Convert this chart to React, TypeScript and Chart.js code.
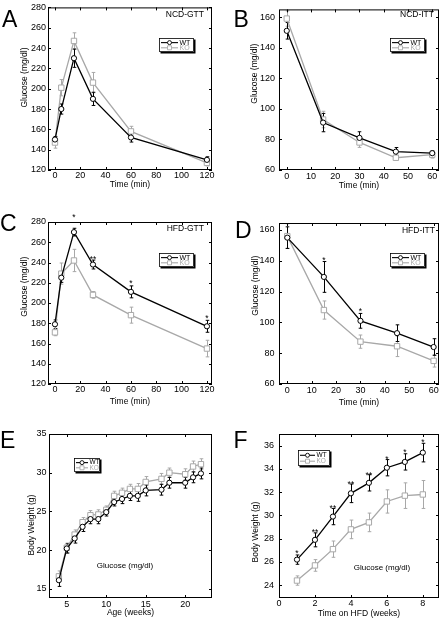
import React, { useEffect, useRef } from "react";
import { Chart, registerables } from "chart.js";

Chart.register(...registerables);

const FONT = "'Liberation Sans', Arial, Helvetica, sans-serif";
const BLACK = "#000000";
const GREY = "#a8a8a8";

// ---------- Data ----------
const gttTimes = [0, 5, 15, 30, 60, 120];
const ittTimes = [0, 15, 30, 45, 60];

const ncdGttWT = [150, 180, 230, 190, 152, 130];
const ncdGttWTErr = [3, 5, 9, 6.5, 4.5, 3];
const ncdGttKO = [147, 201, 247, 206, 158, 127];
const ncdGttKOErr = [5.5, 8, 8, 10, 5, 3];

const ncdIttWT = [151, 91, 81, 72, 71];
const ncdIttWTErr = [5.4, 6, 4, 2.7, 1.5];
const ncdIttKO = [159, 93, 78, 68, 70];
const ncdIttKOErr = [5, 5.4, 3.2, 1.7, 2.2];

const hfdGttWT = [179, 225, 270, 238, 211, 177];
const hfdGttWTErr = [4.3, 4.6, 3.8, 4.4, 5.9, 5.9];
const hfdGttKO = [171, 229, 242, 208, 188, 155];
const hfdGttKOErr = [3.3, 10.5, 11, 3.3, 7.9, 8.2];
const hfdGttStarX = [15, 30, 60, 120];
const hfdGttStarY = [286.5, 245.6, 221.6, 186.6];
const hfdGttStars = ["*", "**", "*", "*"];

const hfdIttWT = [155, 129.5, 101, 93, 84];
const hfdIttWTErr = [7, 10, 4.8, 5.4, 5.4];
const hfdIttKO = [156, 108, 87.5, 84.5, 75];
const hfdIttKOErr = [8, 5.9, 4.3, 6.7, 4];
const hfdIttStarX = [15, 30];
const hfdIttStarY = [141.9, 108.9];
const hfdIttStars = ["*", "*"];

const ageWeeks = [4, 5, 6, 7, 8, 9, 10, 11, 12, 13, 14, 15, 17, 18, 20, 21, 22];
const bwWT = [16.1, 20.2, 21.5, 23.0, 24.0, 24.0, 24.9, 26.2, 26.6, 27.0, 27.0, 27.7, 27.8, 28.7, 28.7, 29.4, 29.9];
const bwWTErr = [0.8, 0.6, 0.6, 0.6, 0.6, 0.6, 0.5, 0.5, 0.6, 0.6, 0.7, 0.7, 0.7, 0.7, 0.7, 0.7, 0.7];
const bwKO = [16.6, 20.3, 22.0, 23.6, 24.5, 24.6, 25.2, 27.0, 27.4, 27.9, 27.9, 28.8, 29.2, 30.0, 29.8, 30.8, 31.1];
const bwKOErr = [0.7, 0.6, 0.6, 0.6, 0.6, 0.6, 0.5, 0.6, 0.6, 0.6, 0.7, 0.7, 0.7, 0.6, 0.7, 0.7, 0.7];

const hfdWeeks = [1, 2, 3, 4, 5, 6, 7, 8];
const hfdBwWT = [26.2, 27.9, 29.9, 31.9, 32.8, 34.1, 34.6, 35.4];
const hfdBwWTErr = [0.4, 0.6, 0.7, 0.8, 0.7, 0.7, 0.7, 0.8];
const hfdBwKO = [24.4, 25.7, 27.1, 28.8, 29.4, 31.2, 31.7, 31.8];
const hfdBwKOErr = [0.4, 0.5, 0.7, 0.8, 0.8, 1.0, 1.1, 1.2];
const hfdBwStarY = [26.9, 28.7, 30.8, 32.9, 33.6, 35.05, 35.6, 36.5];
const hfdBwStars = ["*", "**", "**", "**", "**", "*", "*", "*"];

const gttXTicks = [0, 20, 40, 60, 80, 100, 120];
const ittXTicks = [0, 10, 20, 30, 40, 50, 60];
const gttYTicks = [120, 140, 160, 180, 200, 220, 240, 260, 280];
const ittYTicks = [60, 80, 100, 120, 140, 160];
const ageXTicks = [5, 10, 15, 20];
const ageYTicks = [15, 20, 25, 30, 35];
const hfdWeekXTicks = [0, 2, 4, 6, 8];
const hfdBwYTicks = [24, 26, 28, 30, 32, 34, 36];

// ---------- Panel layout ----------
type Legend = { x: number; y: number; w: number; h: number; line: number; fs: number };
type Panel = {
  letter: string; letterX: number; letterY: number;
  left: number; top: number; width: number; height: number;
  padding: { left: number; right: number; top: number; bottom: number };
  yWidth: number; xHeight: number;
  xMin: number; xMax: number; xTicks: number[];
  yMin: number; yMax: number; yTicks: number[];
  xTitle: string; xTitlePad: number; xTickPad: number;
  yTitle: string; yTitleX: number; yTitleY: number; yTickPad: number;
  x: number[]; wt: number[]; wtErr: number[]; ko: number[]; koErr: number[];
  tag?: string; tagX?: number; tagY?: number;
  legend: Legend;
  starX?: number[]; starY?: number[]; stars?: string[];
  note?: string; noteX?: number; noteY?: number;
};

const panels: Panel[] = [
  {
    letter: "A", letterX: 2, letterY: 27,
    left: 0, top: 0, width: 222, height: 210,
    padding: { left: 0, right: 10, top: 6, bottom: 16 }, yWidth: 48, xHeight: 24,
    xMin: -5.5, xMax: 124, xTicks: gttXTicks, yMin: 120, yMax: 280, yTicks: gttYTicks,
    xTitle: "Time (min)", xTitlePad: 4.6, xTickPad: 0,
    yTitle: "Glucose (mg/dl)", yTitleX: 25, yTitleY: 77.5, yTickPad: 2,
    x: gttTimes, wt: ncdGttWT, wtErr: ncdGttWTErr, ko: ncdGttKO, koErr: ncdGttKOErr,
    tag: "NCD-GTT", tagX: 204, tagY: 15,
    legend: { x: 159, y: 38, w: 35, h: 14, line: 17, fs: 7 },
  },
  {
    letter: "B", letterX: 11.5, letterY: 26.7,
    left: 222, top: 0, width: 222, height: 210,
    padding: { left: 0, right: 2, top: 7, bottom: 16 }, yWidth: 57, xHeight: 24,
    xMin: -3.2, xMax: 62.8, xTicks: ittXTicks, yMin: 60, yMax: 165, yTicks: ittYTicks,
    xTitle: "Time (min)", xTitlePad: 3.2, xTickPad: 1.5,
    yTitle: "Glucose (mg/dl)", yTitleX: 33, yTitleY: 73.7, yTickPad: 4,
    x: ittTimes, wt: ncdIttWT, wtErr: ncdIttWTErr, ko: ncdIttKO, koErr: ncdIttKOErr,
    tag: "NCD-ITT", tagX: 212, tagY: 15,
    legend: { x: 168, y: 38, w: 35, h: 14, line: 17, fs: 7 },
  },
  {
    letter: "C", letterX: 0, letterY: 20.7,
    left: 0, top: 210, width: 222, height: 210,
    padding: { left: 0, right: 10, top: 12, bottom: 12 }, yWidth: 48, xHeight: 24,
    xMin: -5.5, xMax: 124, xTicks: gttXTicks, yMin: 120, yMax: 280, yTicks: gttYTicks,
    xTitle: "Time (min)", xTitlePad: 1.2, xTickPad: 0,
    yTitle: "Glucose (mg/dl)", yTitleX: 25, yTitleY: 76.7, yTickPad: 2,
    x: gttTimes, wt: hfdGttWT, wtErr: hfdGttWTErr, ko: hfdGttKO, koErr: hfdGttKOErr,
    tag: "HFD-GTT", tagX: 204, tagY: 19,
    legend: { x: 159, y: 43, w: 35, h: 14, line: 17, fs: 7 },
    starX: hfdGttStarX, starY: hfdGttStarY, stars: hfdGttStars,
  },
  {
    letter: "D", letterX: 13, letterY: 28.3,
    left: 222, top: 210, width: 222, height: 210,
    padding: { left: 0, right: 2, top: 13, bottom: 12 }, yWidth: 57, xHeight: 24,
    xMin: -3.4, xMax: 62.2, xTicks: ittXTicks, yMin: 60, yMax: 164.5, yTicks: ittYTicks,
    xTitle: "Time (min)", xTitlePad: 0.2, xTickPad: 1.3,
    yTitle: "Glucose (mg/dl)", yTitleX: 33.3, yTitleY: 75.7, yTickPad: 4.5,
    x: ittTimes, wt: hfdIttWT, wtErr: hfdIttWTErr, ko: hfdIttKO, koErr: hfdIttKOErr,
    tag: "HFD-ITT", tagX: 213, tagY: 21,
    legend: { x: 168, y: 43, w: 35, h: 14, line: 17, fs: 7 },
    starX: hfdIttStarX, starY: hfdIttStarY, stars: hfdIttStars,
  },
  {
    letter: "E", letterX: 0, letterY: 28.3,
    left: 0, top: 420, width: 222, height: 208,
    padding: { left: 0, right: 10, top: 14, bottom: 6 }, yWidth: 49, xHeight: 24,
    xMin: 2.75, xMax: 23.4, xTicks: ageXTicks, yMin: 13.8, yMax: 35, yTicks: ageYTicks,
    xTitle: "Age (weeks)", xTitlePad: 4.2, xTickPad: 1,
    yTitle: "Body Weight (g)", yTitleX: 31.7, yTitleY: 105, yTickPad: 2.5,
    x: ageWeeks, wt: bwWT, wtErr: bwWTErr, ko: bwKO, koErr: bwKOErr,
    legend: { x: 74, y: 38, w: 26, h: 14, line: 12, fs: 6.5 },
    note: "Glucose (mg/dl)", noteX: 125, noteY: 146,
  },
  {
    letter: "F", letterX: 11.5, letterY: 28.3,
    left: 222, top: 420, width: 222, height: 208,
    padding: { left: 0, right: 2, top: 14, bottom: 6 }, yWidth: 57, xHeight: 24,
    xMin: 0, xMax: 8.9, xTicks: hfdWeekXTicks, yMin: 22.9, yMax: 37, yTicks: hfdBwYTicks,
    xTitle: "Time on HFD (weeks)", xTitlePad: 2.9, xTickPad: 0,
    yTitle: "Body Weight (g)", yTitleX: 33.7, yTitleY: 112, yTickPad: 5,
    x: hfdWeeks, wt: hfdBwWT, wtErr: hfdBwWTErr, ko: hfdBwKO, koErr: hfdBwKOErr,
    legend: { x: 76, y: 30, w: 32, h: 16, line: 15, fs: 6.5 },
    starX: hfdWeeks, starY: hfdBwStarY, stars: hfdBwStars,
    note: "Glucose (mg/dl)", noteX: 160, noteY: 148,
  },
];

function PanelChart({ p }: { p: Panel }) {
  const ref = useRef<HTMLCanvasElement | null>(null);

  useEffect(() => {
    const canvas = ref.current;
    if (!canvas) return;

    const deco = {
      id: "deco" + p.letter,
      beforeDatasetsDraw(chart: any) {
        const { ctx, scales } = chart;
        const xs = scales.x;
        const ys = scales.y;
        const cap = 1.8;
        const drawErr = (vals: number[], errs: number[], color: string) => {
          ctx.save();
          ctx.strokeStyle = color;
          ctx.lineWidth = 1;
          p.x.forEach((xv, i) => {
            const px = Math.round(xs.getPixelForValue(xv)) + 0.5;
            const y1 = ys.getPixelForValue(vals[i] + errs[i]);
            const y2 = ys.getPixelForValue(vals[i] - errs[i]);
            ctx.beginPath();
            ctx.moveTo(px, y1);
            ctx.lineTo(px, y2);
            ctx.moveTo(px - cap, y1);
            ctx.lineTo(px + cap, y1);
            ctx.moveTo(px - cap, y2);
            ctx.lineTo(px + cap, y2);
            ctx.stroke();
          });
          ctx.restore();
        };
        drawErr(p.ko, p.koErr, GREY);
        drawErr(p.wt, p.wtErr, BLACK);
      },
      afterDraw(chart: any) {
        const { ctx, chartArea: a, scales } = chart;
        const xs = scales.x;
        const ys = scales.y;
        ctx.save();
        // frame
        ctx.strokeStyle = BLACK;
        ctx.lineWidth = 1;
        ctx.strokeRect(a.left + 0.5, a.top + 0.5, a.right - a.left - 1, a.bottom - a.top - 1);
        // inward ticks
        const tl = 3;
        ctx.beginPath();
        p.xTicks.forEach((v) => {
          const px = Math.round(xs.getPixelForValue(v)) + 0.5;
          ctx.moveTo(px, a.bottom);
          ctx.lineTo(px, a.bottom - tl);
          ctx.moveTo(px, a.top);
          ctx.lineTo(px, a.top + tl);
        });
        p.yTicks.forEach((v) => {
          const py = Math.round(ys.getPixelForValue(v)) + 0.5;
          ctx.moveTo(a.left, py);
          ctx.lineTo(a.left + tl, py);
          ctx.moveTo(a.right, py);
          ctx.lineTo(a.right - tl, py);
        });
        ctx.stroke();

        // y title
        ctx.fillStyle = BLACK;
        ctx.save();
        ctx.translate(p.yTitleX, p.yTitleY);
        ctx.rotate(-Math.PI / 2);
        ctx.font = `8.5px ${FONT}`;
        ctx.textAlign = "center";
        ctx.textBaseline = "middle";
        ctx.fillText(p.yTitle, 0, 0);
        ctx.restore();

        // panel letter
        ctx.font = `23px ${FONT}`;
        ctx.textAlign = "left";
        ctx.textBaseline = "alphabetic";
        ctx.fillText(p.letter, p.letterX, p.letterY);

        // tag
        if (p.tag) {
          ctx.font = `8.5px ${FONT}`;
          ctx.textAlign = "right";
          ctx.textBaseline = "middle";
          ctx.fillText(p.tag, p.tagX as number, p.tagY as number);
        }

        // note
        if (p.note) {
          ctx.font = `8px ${FONT}`;
          ctx.textAlign = "center";
          ctx.textBaseline = "middle";
          ctx.fillText(p.note, p.noteX as number, p.noteY as number);
        }

        // stars
        if (p.starX && p.starY && p.stars) {
          const fs = 8.5;
          ctx.font = `${fs}px ${FONT}`;
          ctx.textAlign = "center";
          ctx.textBaseline = "alphabetic";
          p.starX.forEach((xv, i) => {
            const px = xs.getPixelForValue(xv);
            const py = ys.getPixelForValue((p.starY as number[])[i]);
            ctx.fillText((p.stars as string[])[i], px, py + 0.57 * fs);
          });
        }

        // legend
        const L = p.legend;
        ctx.fillStyle = BLACK;
        ctx.fillRect(L.x + 1.5, L.y + 1.5, L.w, L.h);
        ctx.fillStyle = "#ffffff";
        ctx.fillRect(L.x, L.y, L.w, L.h);
        ctx.strokeStyle = BLACK;
        ctx.lineWidth = 0.8;
        ctx.strokeRect(L.x + 0.5, L.y + 0.5, L.w - 1, L.h - 1);
        const rows = [
          { label: "WT", color: BLACK, y: L.y + L.h * 0.33, shape: "circle" },
          { label: "KO", color: GREY, y: L.y + L.h * 0.7, shape: "rect" },
        ];
        rows.forEach((r) => {
          const x0 = L.x + 2;
          const x1 = L.x + 2 + L.line;
          ctx.strokeStyle = r.color;
          ctx.lineWidth = 1.1;
          ctx.beginPath();
          ctx.moveTo(x0, r.y);
          ctx.lineTo(x1, r.y);
          ctx.stroke();
          const mx = (x0 + x1) / 2;
          ctx.fillStyle = "#ffffff";
          ctx.lineWidth = 0.9;
          ctx.beginPath();
          if (r.shape === "circle") {
            ctx.arc(mx, r.y, 2, 0, Math.PI * 2);
          } else {
            ctx.rect(mx - 2, r.y - 2, 4, 4);
          }
          ctx.fill();
          ctx.stroke();
          ctx.fillStyle = r.color;
          ctx.font = `${L.fs}px ${FONT}`;
          ctx.textAlign = "left";
          ctx.textBaseline = "middle";
          ctx.fillText(r.label, x1 + 1.5, r.y);
        });
        ctx.restore();
      },
    };

    const chart = new Chart(canvas, {
      type: "line",
      data: {
        datasets: [
          {
            label: "WT",
            data: p.x.map((v, i) => ({ x: v, y: p.wt[i] })),
            borderColor: BLACK,
            borderWidth: 1.3,
            pointStyle: "circle",
            pointRadius: 2.6,
            pointBorderWidth: 1,
            pointBorderColor: BLACK,
            pointBackgroundColor: "#ffffff",
            tension: 0,
            fill: false,
          },
          {
            label: "KO",
            data: p.x.map((v, i) => ({ x: v, y: p.ko[i] })),
            borderColor: GREY,
            borderWidth: 1.3,
            pointStyle: "rect",
            pointRadius: 3.8,
            pointBorderWidth: 1,
            pointBorderColor: GREY,
            pointBackgroundColor: "#ffffff",
            tension: 0,
            fill: false,
          },
        ],
      },
      options: {
        responsive: false,
        animation: false,
        devicePixelRatio: 1,
        layout: { padding: p.padding },
        plugins: {
          legend: { display: false },
          tooltip: { enabled: false },
          title: { display: false },
        },
        scales: {
          x: {
            type: "linear",
            min: p.xMin,
            max: p.xMax,
            afterBuildTicks: (s: any) => {
              s.ticks = p.xTicks.map((v) => ({ value: v }));
            },
            afterFit: (s: any) => {
              s.height = p.xHeight;
            },
            grid: { display: false, drawTicks: false },
            border: { display: false },
            ticks: {
              color: BLACK,
              font: { family: FONT, size: 9 },
              padding: p.xTickPad,
              maxRotation: 0,
              autoSkip: false,
            },
            title: {
              display: true,
              text: p.xTitle,
              color: BLACK,
              font: { family: FONT, size: 8.5 },
              padding: { top: 0, bottom: p.xTitlePad },
            },
          },
          y: {
            type: "linear",
            min: p.yMin,
            max: p.yMax,
            afterBuildTicks: (s: any) => {
              s.ticks = p.yTicks.map((v) => ({ value: v }));
            },
            afterFit: (s: any) => {
              s.width = p.yWidth;
            },
            grid: { display: false, drawTicks: false },
            border: { display: false },
            ticks: {
              color: BLACK,
              font: { family: FONT, size: 9 },
              padding: p.yTickPad,
              autoSkip: false,
            },
            title: { display: false },
          },
        },
      } as any,
      plugins: [deco],
    });

    return () => chart.destroy();
  }, [p]);

  return (
    <canvas
      ref={ref}
      width={p.width}
      height={p.height}
      style={{ position: "absolute", left: p.left, top: p.top, width: p.width, height: p.height }}
    />
  );
}

export default function App() {
  return (
    <div style={{ position: "absolute", left: 0, top: 0, width: 444, height: 628, background: "#ffffff" }}>
      {panels.map((p) => (
        <PanelChart key={p.letter} p={p} />
      ))}
    </div>
  );
}
